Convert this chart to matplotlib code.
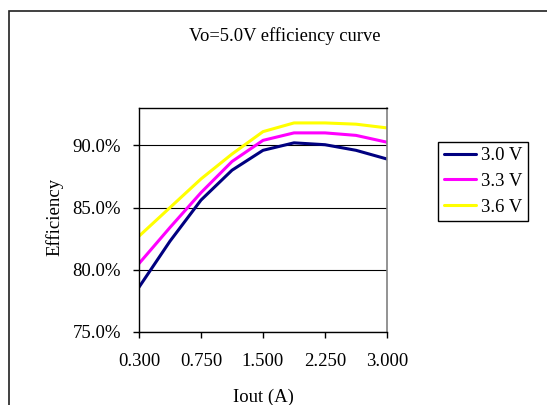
import numpy as np
import matplotlib
matplotlib.use('Agg')
import matplotlib.pyplot as plt
from matplotlib.patches import Rectangle
from matplotlib.ticker import FuncFormatter

plt.rcParams['font.family'] = ['Liberation Serif', 'DejaVu Serif']

# load current categories (A) and efficiency (%) per input voltage
iout = ['0.300', '0.525', '0.750', '1.125', '1.500', '1.875', '2.250', '2.625', '3.000']
eff_30 = [78.6, 82.3, 85.6, 88.0, 89.6, 90.2, 90.05, 89.6, 88.9]
eff_33 = [80.5, 83.4, 86.2, 88.7, 90.4, 91.0, 91.0, 90.8, 90.25]
eff_36 = [82.7, 85.0, 87.3, 89.3, 91.1, 91.8, 91.8, 91.7, 91.4]
series_labels = ['3.0 V', '3.3 V', '3.6 V']
colors = ['#000080', '#FF00FF', '#FFFF00']

W, H = 547, 405
fs = 13.5
fig = plt.figure(figsize=(W/100., H/100.), dpi=100)

# chart area border (runs off the right and bottom edges)
fig.patches.append(Rectangle((9./W, -0.1), 1.2, 1 - 11./H + 0.1, transform=fig.transFigure,
                             fill=False, edgecolor='#202020', linewidth=1.2))

ax = fig.add_axes([139./W, 1 - 332./H, 248./W, 224./H])
x = np.arange(len(iout))
for vals, lab, c in zip([eff_30, eff_33, eff_36], series_labels, colors):
    ax.plot(x, vals, color=c, linewidth=2.2, label=lab, solid_capstyle='round')

ax.set_xlim(0, len(iout) - 1)
ax.set_ylim(75, 93)
ax.set_yticks([75, 80, 85, 90])
ax.yaxis.set_major_formatter(FuncFormatter(lambda v, p: '%.1f%%' % v))
ax.set_xticks(x[::2])
ax.set_xticklabels(iout[::2])
ax.grid(axis='y', color='black', linewidth=0.8)
ax.tick_params(direction='out', length=4, width=1, labelsize=fs)
ax.tick_params(axis='y', pad=9)
ax.tick_params(axis='x', pad=11)
for s in ['left', 'bottom', 'top']:
    ax.spines[s].set_color('black')
    ax.spines[s].set_linewidth(1.0)
ax.spines['right'].set_color('#808080')
ax.spines['right'].set_linewidth(1.2)

fig.text(285./W, 1 - 36./H, 'Vo=5.0V efficiency curve', ha='center', va='center', fontsize=13.3)
fig.text(55./W, 1 - 217./H, 'Efficiency', ha='center', va='center', rotation=90, fontsize=fs)
fig.text(263./W, 1 - 397./H, 'Iout (A)', ha='center', va='center', fontsize=fs)

leg = ax.legend(loc='upper left', bbox_to_anchor=(438./W, 1 - 141.7/H), bbox_transform=fig.transFigure,
                borderaxespad=0, fancybox=False, edgecolor='black', framealpha=1, fontsize=fs,
                handlelength=1.75, handletextpad=0.25, labelspacing=0.45, borderpad=0.3)
leg.get_frame().set_linewidth(1.0)

fig.savefig('out.png', dpi=100)
